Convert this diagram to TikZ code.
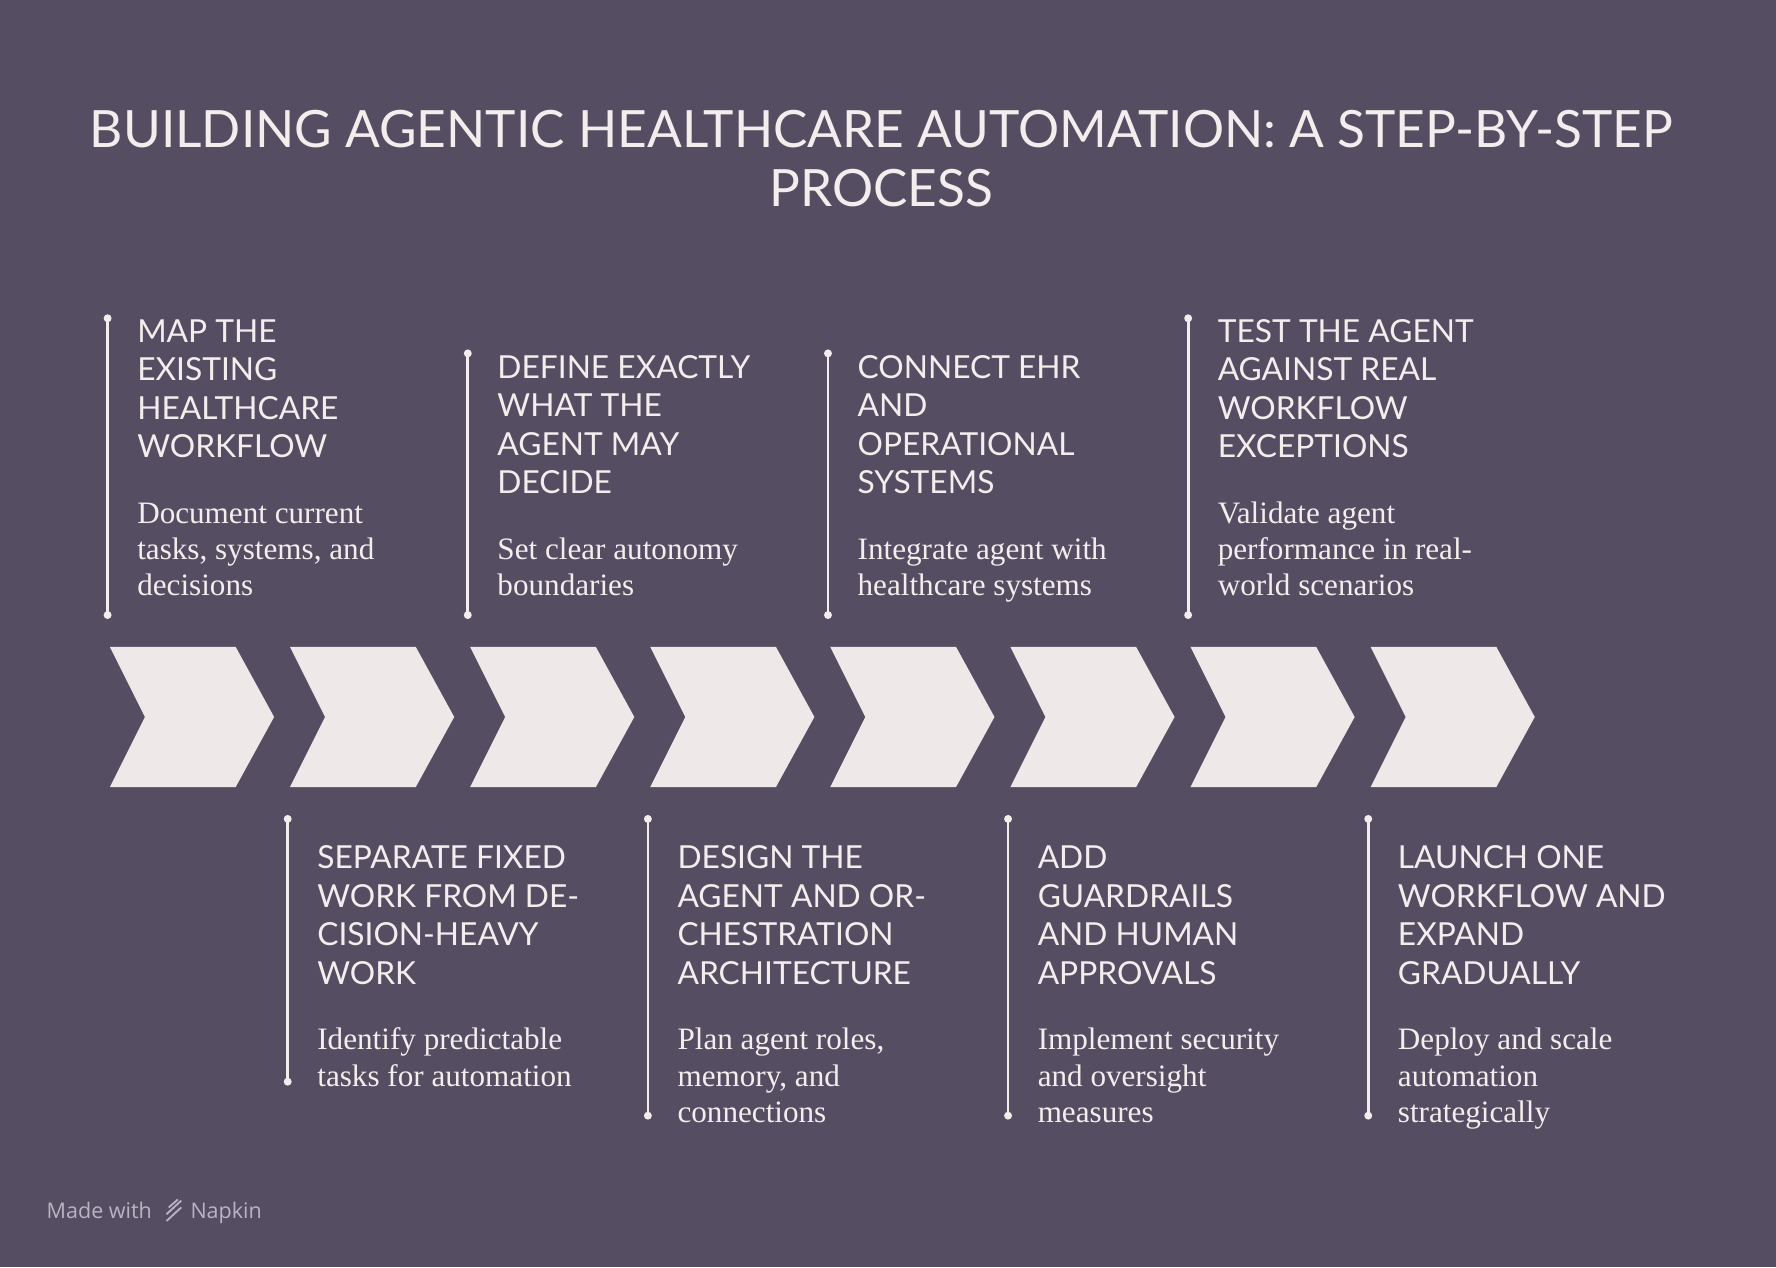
\documentclass[tikz,border=0pt]{standalone}
\usepackage{fontspec}
\setmainfont{Liberation Serif}
\newfontfamily\headfont{Lato}
\newfontfamily\markfont{Open Sans}
\definecolor{bg}{HTML}{554E63}
\definecolor{chev}{HTML}{EFE8E8}
\definecolor{txt}{HTML}{F3EDED}
\definecolor{markc}{HTML}{B9B3C2}
\begin{document}
\begin{tikzpicture}[x=1pt,y=-1pt,
  chevron/.style={fill=chev,draw=none},
  stem/.style={draw=txt,line width=2.4pt},
  dot/.style={circle,fill=txt,inner sep=0pt,minimum size=7pt},
  head/.style={anchor=base west,inner sep=0pt,align=left,text=txt,font=\headfont\fontsize{28}{34}\selectfont},
  body/.style={anchor=base west,inner sep=0pt,align=left,text=txt,font=\fontsize{27.5}{32}\selectfont}]
\fill[bg] (0,0) rectangle (1568,1119);
\useasboundingbox (0,0) rectangle (1568,1119);
\node[anchor=base,inner sep=0pt,align=center,text=txt,font=\headfont\fontsize{45.4}{52}\selectfont] (title) at (778,182)
 {BUILDING AGENTIC HEALTHCARE AUTOMATION: A STEP-BY-STEP\\PROCESS};
\foreach \i/\x in {1/97,2/256,3/415,4/574,5/733,6/892,7/1051,8/1210}{
  \fill[chevron] (\x,571) -- ++(111,0) -- ++(34,62) -- ++(-34,62) -- ++(-111,0) -- ++(31,-62) -- cycle;
}
% top items
\foreach \n/\x/\ya/\hb/\h/\b in {
 a/95/281/404/{MAP THE\\EXISTING\\HEALTHCARE\\WORKFLOW}/{Document current\\tasks, systems, and\\decisions},
 b/413/312/436/{DEFINE EXACTLY\\WHAT THE\\AGENT MAY\\DECIDE}/{Set clear autonomy\\boundaries},
 c/731/312/436/{CONNECT EHR\\AND\\OPERATIONAL\\SYSTEMS}/{Integrate agent with\\healthcare systems},
 d/1049/281/404/{TEST THE AGENT\\AGAINST REAL\\WORKFLOW\\EXCEPTIONS}/{Validate agent\\performance in real-\\world scenarios}}{
 \node[dot] (\n1) at (\x,\ya) {};
 \node[dot] (\n2) at (\x,543) {};
 \draw[stem] (\n1.center) -- (\n2.center);
 \node[head] (\n h) at (\x+26,\hb) {\h};
 \node[body] (\n b) at (\x+26,526) {\b};
}
% bottom items
\foreach \n/\x/\yb/\bb/\h/\b in {
 e/254/955/959/{SEPARATE FIXED\\WORK FROM DE-\\CISION-HEAVY\\WORK}/{Identify predictable\\tasks for automation},
 f/572/985/991/{DESIGN THE\\AGENT AND OR-\\CHESTRATION\\ARCHITECTURE}/{Plan agent roles,\\memory, and\\connections},
 g/890/985/991/{ADD\\GUARDRAILS\\AND HUMAN\\APPROVALS}/{Implement security\\and oversight\\measures},
 h/1208/985/991/{LAUNCH ONE\\WORKFLOW AND\\EXPAND\\GRADUALLY}/{Deploy and scale\\automation\\strategically}}{
 \node[dot] (\n1) at (\x,723) {};
 \node[dot] (\n2) at (\x,\yb) {};
 \draw[stem] (\n1.center) -- (\n2.center);
 \node[head] (\n h) at (\x+26,869) {\h};
 \node[body] (\n b) at (\x+26,\bb) {\b};
}
\node[anchor=base west,inner sep=0pt,text=markc,font=\markfont\fontsize{19}{22}\selectfont] (made) at (41,1076) {Made with};
\node[anchor=base west,inner sep=0pt,text=markc,font=\markfont\fontsize{19}{22}\selectfont] (napkin) at (168,1076) {Napkin};
\draw[markc,line width=1.6pt] (147,1078) -- (160,1066) (147,1072) -- (160,1060) (149,1066)--(157,1059);
\end{tikzpicture}
\end{document}
